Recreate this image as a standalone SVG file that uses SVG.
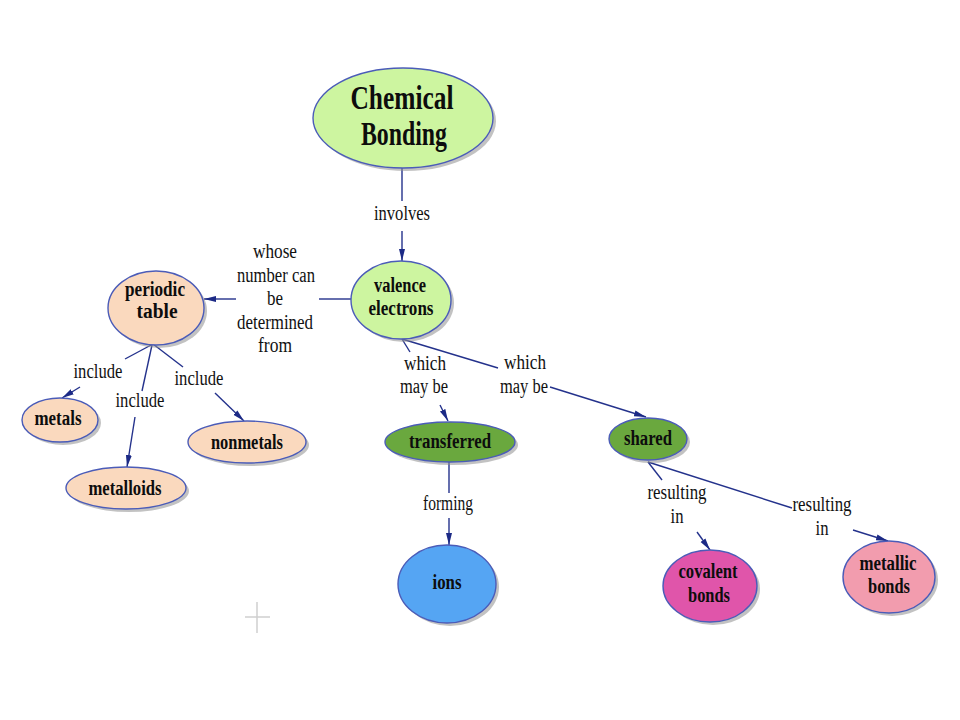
<svg xmlns="http://www.w3.org/2000/svg" width="960" height="720" viewBox="0 0 960 720">
<defs>
<style>
.sh{fill:#8f8f8f;opacity:.55}
.nd{stroke:#4b5cb8;stroke-width:1.4}
.nt{font-family:"Liberation Serif","Times New Roman",serif;font-weight:bold;font-size:20px;text-anchor:middle;fill:#0d0d0d}
.big{font-size:34px}
.lt{font-family:"Liberation Serif","Times New Roman",serif;font-size:20px;text-anchor:middle;fill:#111}
.c{stroke:#24328c;stroke-width:1.4;fill:none}
.g1{fill:#cdf5a0}.pe{fill:#fad9be}.dg{fill:#6aa83e}.bl{fill:#55a5f3}.mg{fill:#e055aa}.pk{fill:#f29cae}
</style>
<marker id="ah" viewBox="0 0 12 8" refX="12" refY="4" markerWidth="12" markerHeight="8" markerUnits="userSpaceOnUse" orient="auto">
<path d="M0,1 L12,4 L0,7 Z" fill="#1c2a86"/>
</marker>
</defs>
<rect width="960" height="720" fill="#fff"/>

<g id="cross" stroke="#cfcfcf" stroke-width="1.5">
<line x1="257" y1="602" x2="257" y2="633"/>
<line x1="245" y1="617" x2="270" y2="617"/>
</g>

<g id="connectors">
<line class="c" x1="402" y1="168" x2="402" y2="201"/>
<line class="c" x1="402" y1="231" x2="402" y2="261" marker-end="url(#ah)"/>
<text class="lt" x="402" y="220" textLength="56" lengthAdjust="spacingAndGlyphs">involves</text>

<line class="c" x1="351" y1="299" x2="319" y2="299"/>
<line class="c" x1="236" y1="299" x2="204" y2="299" marker-end="url(#ah)"/>
<text class="lt" x="275" y="258" textLength="44" lengthAdjust="spacingAndGlyphs">whose</text>
<text class="lt" x="276" y="282" textLength="78" lengthAdjust="spacingAndGlyphs">number can</text>
<text class="lt" x="275" y="305" textLength="16" lengthAdjust="spacingAndGlyphs">be</text>
<text class="lt" x="275" y="329" textLength="76" lengthAdjust="spacingAndGlyphs">determined</text>
<text class="lt" x="275" y="352" textLength="34" lengthAdjust="spacingAndGlyphs">from</text>

<line class="c" x1="153" y1="344" x2="125" y2="359"/>
<line class="c" x1="80" y1="387" x2="62" y2="398" marker-end="url(#ah)"/>
<text class="lt" x="98" y="378" textLength="49" lengthAdjust="spacingAndGlyphs">include</text>

<line class="c" x1="152" y1="345" x2="142" y2="391"/>
<line class="c" x1="135" y1="417" x2="127" y2="467" marker-end="url(#ah)"/>
<text class="lt" x="140" y="407" textLength="49" lengthAdjust="spacingAndGlyphs">include</text>

<line class="c" x1="153" y1="344" x2="183" y2="367"/>
<line class="c" x1="215" y1="393" x2="244" y2="421" marker-end="url(#ah)"/>
<text class="lt" x="199" y="385" textLength="49" lengthAdjust="spacingAndGlyphs">include</text>

<line class="c" x1="402" y1="339" x2="410" y2="352"/>
<line class="c" x1="440" y1="405" x2="448" y2="421" marker-end="url(#ah)"/>
<text class="lt" x="425" y="370" textLength="42" lengthAdjust="spacingAndGlyphs">which</text>
<text class="lt" x="424" y="393" textLength="48" lengthAdjust="spacingAndGlyphs">may be</text>

<line class="c" x1="402" y1="339" x2="498" y2="368"/>
<line class="c" x1="550" y1="387" x2="646" y2="417" marker-end="url(#ah)"/>
<text class="lt" x="525" y="369" textLength="42" lengthAdjust="spacingAndGlyphs">which</text>
<text class="lt" x="524" y="393" textLength="48" lengthAdjust="spacingAndGlyphs">may be</text>

<line class="c" x1="449" y1="462" x2="449" y2="493"/>
<line class="c" x1="449" y1="518" x2="449" y2="545" marker-end="url(#ah)"/>
<text class="lt" x="448" y="510" textLength="50" lengthAdjust="spacingAndGlyphs">forming</text>

<line class="c" x1="648" y1="462" x2="662" y2="480"/>
<line class="c" x1="697" y1="532" x2="710" y2="550" marker-end="url(#ah)"/>
<text class="lt" x="677" y="499" textLength="59" lengthAdjust="spacingAndGlyphs">resulting</text>
<text class="lt" x="677" y="523" textLength="13" lengthAdjust="spacingAndGlyphs">in</text>

<line class="c" x1="648" y1="462" x2="792" y2="508"/>
<line class="c" x1="853" y1="530" x2="888" y2="541" marker-end="url(#ah)"/>
<text class="lt" x="822" y="511" textLength="59" lengthAdjust="spacingAndGlyphs">resulting</text>
<text class="lt" x="822" y="535" textLength="13" lengthAdjust="spacingAndGlyphs">in</text>
</g>

<g id="chemical-bonding">
<ellipse class="sh" cx="406" cy="121" rx="90" ry="50"/>
<ellipse class="nd g1" cx="403" cy="118" rx="90" ry="50"/>
<text class="nt big" x="402" y="109" textLength="103" lengthAdjust="spacingAndGlyphs">Chemical</text>
<text class="nt big" x="404" y="145" textLength="86" lengthAdjust="spacingAndGlyphs">Bonding</text>
</g>

<g id="valence-electrons">
<ellipse class="sh" cx="404" cy="303" rx="50" ry="39"/>
<ellipse class="nd g1" cx="401" cy="300" rx="50" ry="39"/>
<text class="nt" x="400" y="292" textLength="52" lengthAdjust="spacingAndGlyphs">valence</text>
<text class="nt" x="401" y="315" textLength="65" lengthAdjust="spacingAndGlyphs">electrons</text>
</g>

<g id="periodic-table">
<ellipse class="sh" cx="159" cy="311" rx="48" ry="37"/>
<ellipse class="nd pe" cx="156" cy="308" rx="48" ry="37"/>
<text class="nt" x="155" y="296" textLength="60" lengthAdjust="spacingAndGlyphs">periodic</text>
<text class="nt" x="157" y="318" textLength="41" lengthAdjust="spacingAndGlyphs">table</text>
</g>

<g id="metals">
<ellipse class="sh" cx="63" cy="423" rx="38" ry="22"/>
<ellipse class="nd pe" cx="60" cy="420" rx="38" ry="22"/>
<text class="nt" x="58" y="425" textLength="47" lengthAdjust="spacingAndGlyphs">metals</text>
</g>

<g id="metalloids">
<ellipse class="sh" cx="129" cy="491" rx="60" ry="21"/>
<ellipse class="nd pe" cx="126" cy="488" rx="60" ry="21"/>
<text class="nt" x="125" y="495" textLength="73" lengthAdjust="spacingAndGlyphs">metalloids</text>
</g>

<g id="nonmetals">
<ellipse class="sh" cx="250" cy="445" rx="59" ry="21"/>
<ellipse class="nd pe" cx="247" cy="442" rx="59" ry="21"/>
<text class="nt" x="247" y="449" textLength="72" lengthAdjust="spacingAndGlyphs">nonmetals</text>
</g>

<g id="transferred">
<ellipse class="sh" cx="453" cy="445" rx="65" ry="20"/>
<ellipse class="nd dg" cx="450" cy="442" rx="65" ry="20"/>
<text class="nt" x="450" y="448" textLength="82" lengthAdjust="spacingAndGlyphs">transferred</text>
</g>

<g id="shared">
<ellipse class="sh" cx="651" cy="442" rx="39" ry="21"/>
<ellipse class="nd dg" cx="648" cy="439" rx="39" ry="21"/>
<text class="nt" x="648" y="445" textLength="48" lengthAdjust="spacingAndGlyphs">shared</text>
</g>

<g id="ions">
<ellipse class="sh" cx="450" cy="587" rx="49" ry="39"/>
<ellipse class="nd bl" cx="447" cy="584" rx="49" ry="39"/>
<text class="nt" x="447" y="589" textLength="29" lengthAdjust="spacingAndGlyphs">ions</text>
</g>

<g id="covalent-bonds">
<ellipse class="sh" cx="713" cy="589" rx="47" ry="36"/>
<ellipse class="nd mg" cx="710" cy="586" rx="47" ry="36"/>
<text class="nt" x="708" y="578" textLength="59" lengthAdjust="spacingAndGlyphs">covalent</text>
<text class="nt" x="709" y="602" textLength="42" lengthAdjust="spacingAndGlyphs">bonds</text>
</g>

<g id="metallic-bonds">
<ellipse class="sh" cx="892" cy="580" rx="46" ry="36"/>
<ellipse class="nd pk" cx="889" cy="577" rx="46" ry="36"/>
<text class="nt" x="888" y="570" textLength="57" lengthAdjust="spacingAndGlyphs">metallic</text>
<text class="nt" x="889" y="593" textLength="42" lengthAdjust="spacingAndGlyphs">bonds</text>
</g>
</svg>
